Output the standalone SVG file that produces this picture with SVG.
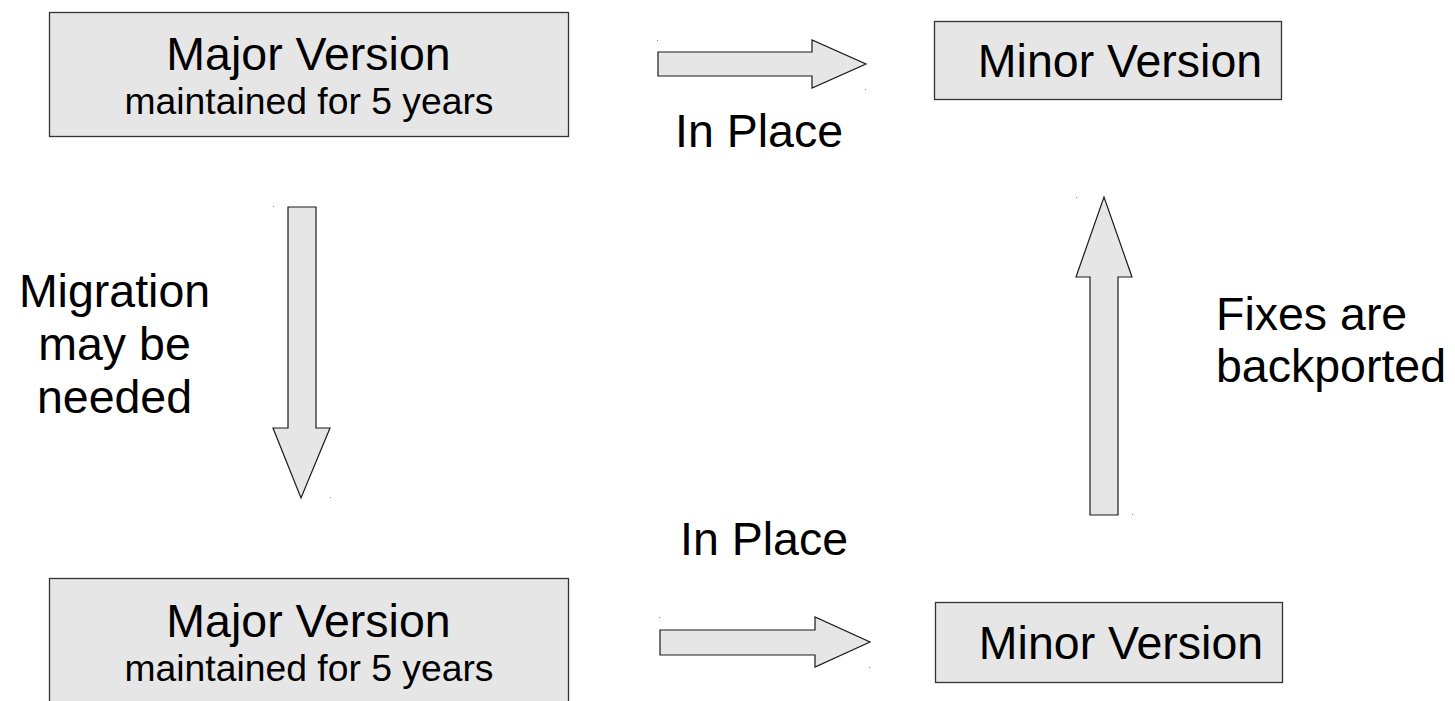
<svg xmlns="http://www.w3.org/2000/svg" width="1455" height="701" viewBox="0 0 1455 701">
<style>
.box{fill:#e6e6e6;stroke:#333333;stroke-width:1.3}
.arr{fill:#e6e6e6;stroke:#1a1a1a;stroke-width:1.2;stroke-linejoin:miter}
.t{font-family:"Liberation Sans",Arial,sans-serif;fill:#000000;text-anchor:middle}
.big{font-size:46.5px}
.small{font-size:37.3px}
.lbl{font-family:"Liberation Sans",Arial,sans-serif;fill:#000000;font-size:46.5px}
.dot{fill:#888888}
</style>
<rect x="0" y="0" width="1455" height="701" fill="#ffffff"/>
<g id="major1">
<rect class="box" x="49.5" y="12.5" width="519" height="124"/>
<text class="t big" x="308.5" y="70">Major Version</text>
<text class="t small" x="309" y="114">maintained for 5 years</text>
</g>
<g id="minor1">
<rect class="box" x="934.5" y="21.5" width="347" height="78"/>
<text class="t big" x="1120" y="77">Minor Version</text>
</g>
<g id="major2">
<rect class="box" x="49.5" y="578.5" width="519" height="130"/>
<text class="t big" x="308.5" y="637">Major Version</text>
<text class="t small" x="309" y="681">maintained for 5 years</text>
</g>
<g id="minor2">
<rect class="box" x="935.5" y="602.5" width="347" height="80"/>
<text class="t big" x="1121" y="659">Minor Version</text>
</g>
<g id="connectors">
<polygon class="arr" points="658,52 812,52 812,40 866,64 812,88 812,76 658,76"/>
<rect class="dot" x="657" y="40" width="1" height="1"/>
<rect class="dot" x="865" y="89" width="1" height="1"/>
<polygon class="arr" points="660,630 815,630 815,617 870,642 815,667 815,655 660,655"/>
<rect class="dot" x="659" y="617" width="1" height="1"/>
<rect class="dot" x="869" y="667" width="1" height="1"/>
<polygon class="arr" points="288,207 316,207 316,428 330,428 301,498 273,428 288,428"/>
<rect class="dot" x="273" y="206" width="1" height="1"/>
<rect class="dot" x="330" y="497" width="1" height="1"/>
<polygon class="arr" points="1090,515 1090,277 1076,277 1104,197 1132,277 1118,277 1118,515"/>
<rect class="dot" x="1076" y="197" width="1" height="1"/>
<rect class="dot" x="1132" y="514" width="1" height="1"/>
</g>
<g id="labels">
<text class="t big" x="759" y="147">In Place</text>
<text class="t big" x="764" y="555">In Place</text>
<text class="t big" x="114.5" y="307">Migration</text>
<text class="t big" x="114.5" y="360">may be</text>
<text class="t big" x="114.5" y="413">needed</text>
<text class="lbl" x="1216" y="330">Fixes are</text>
<text class="lbl" x="1216" y="382">backported</text>
</g>
</svg>
